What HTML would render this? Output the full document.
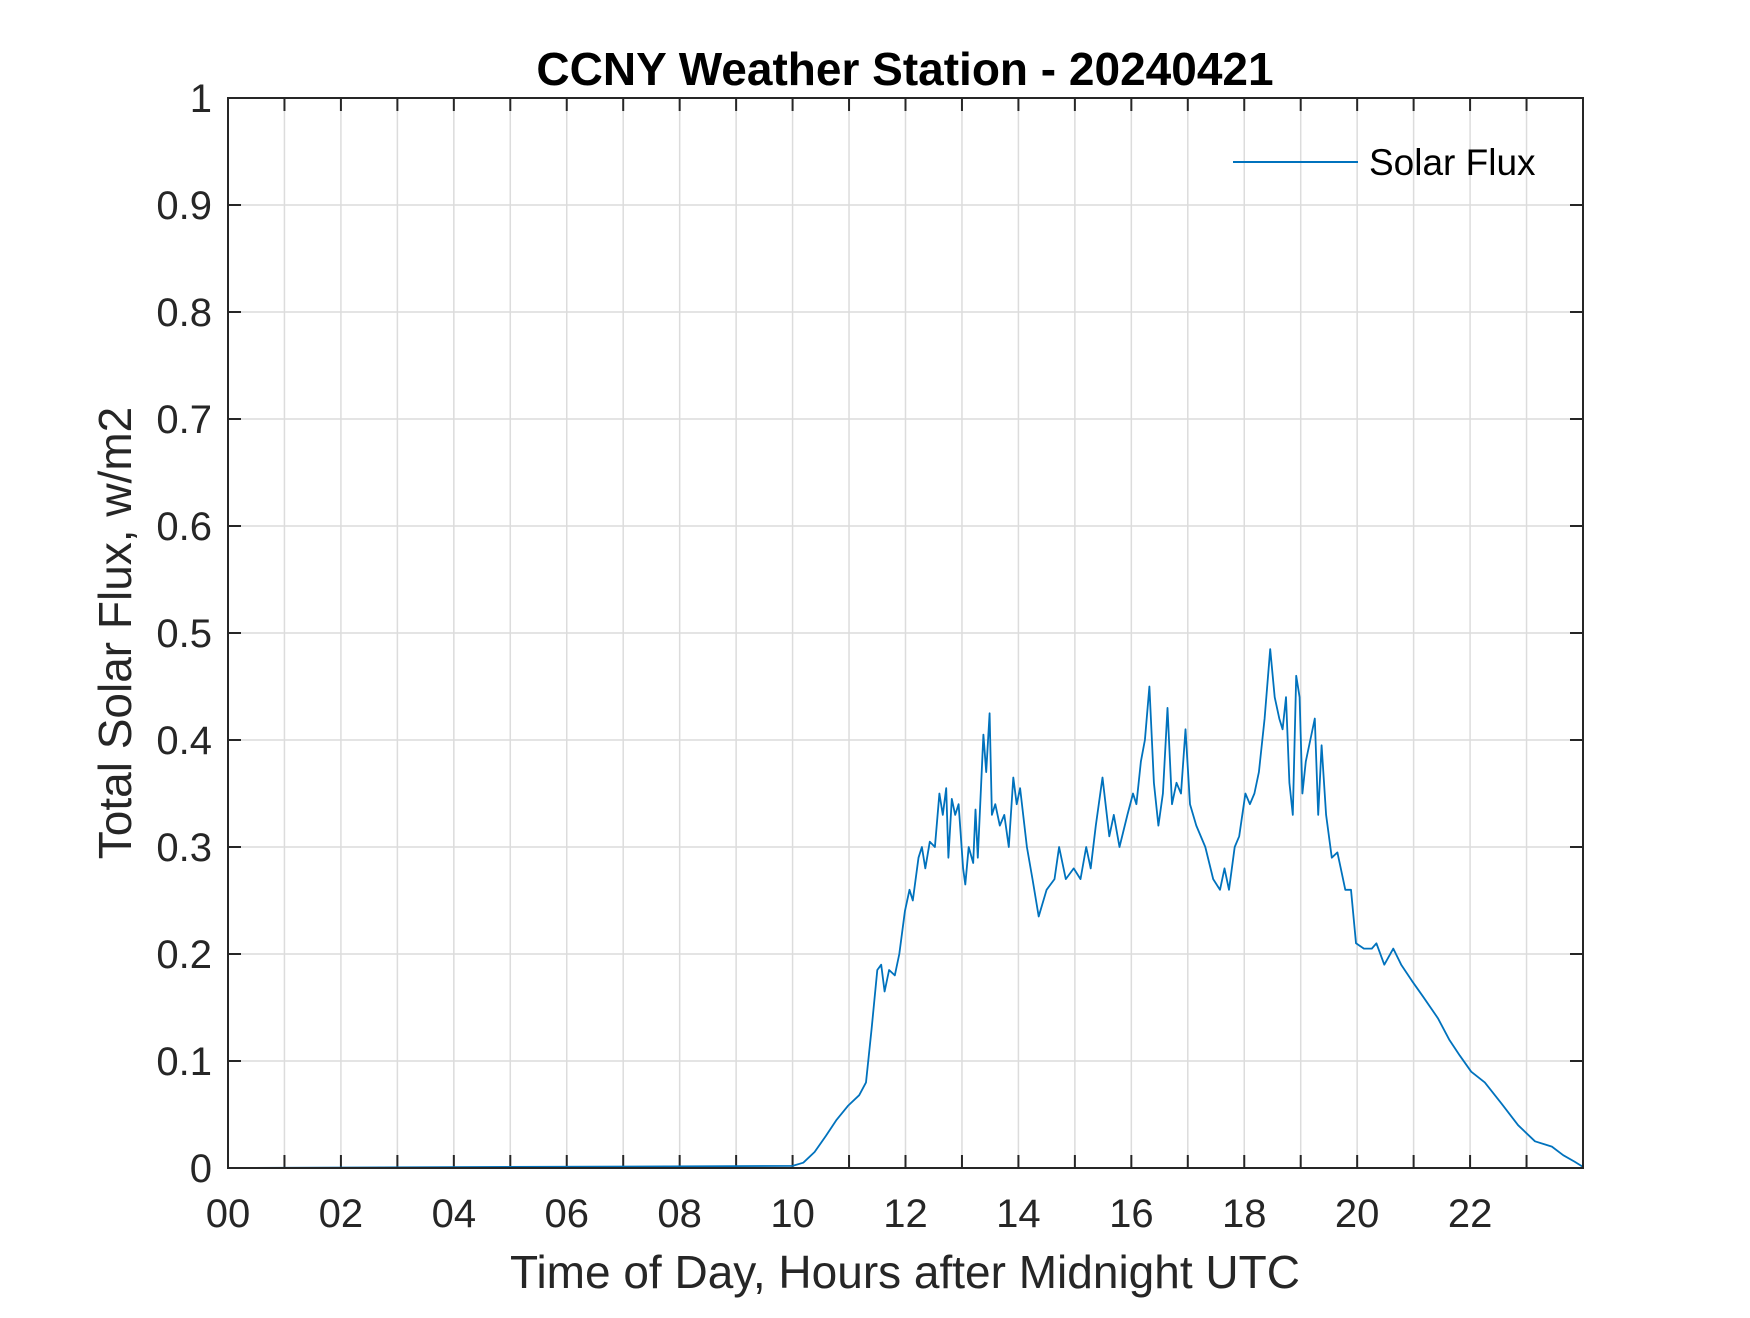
<!DOCTYPE html>
<html><head><meta charset="utf-8"><style>
body{margin:0;background:#fff;}
svg text{font-family:"Liberation Sans",sans-serif;}
</style></head><body>
<svg id="chart" width="1750" height="1313" xmlns="http://www.w3.org/2000/svg">
<rect width="1750" height="1313" fill="#fff"/>
<g id="grid"></g>
<g id="ticks"></g>
<g id="series"></g>
<rect x="228" y="98" width="1355" height="1070" fill="none" stroke="#262626" stroke-width="2"/>
<text x="905" y="85" text-anchor="middle" font-size="46" font-weight="bold" fill="#000">CCNY Weather Station - 20240421</text>
<text x="905" y="1288" text-anchor="middle" font-size="46" fill="#262626">Time of Day, Hours after Midnight UTC</text>
<text transform="translate(131,633) rotate(-90)" text-anchor="middle" font-size="46" fill="#262626">Total Solar Flux, w/m2</text>
<g>
<line x1="1233" y1="162" x2="1358" y2="162" stroke="#0072BD" stroke-width="2"/>
<text x="1369" y="175" font-size="37" fill="#000">Solar Flux</text>
</g>
</svg>
<script>
const hours=[0,10.0,10.19,10.39,10.59,10.78,10.98,11.18,11.30,11.40,11.50,11.57,11.63,11.71,11.81,11.89,11.99,12.07,12.13,12.23,12.29,12.35,12.43,12.52,12.60,12.66,12.72,12.76,12.82,12.88,12.94,13.02,13.06,13.12,13.20,13.24,13.28,13.38,13.43,13.49,13.53,13.59,13.67,13.75,13.83,13.91,13.97,14.03,14.15,14.25,14.36,14.50,14.64,14.72,14.84,14.98,15.10,15.20,15.28,15.37,15.49,15.61,15.69,15.79,15.93,16.03,16.09,16.17,16.24,16.32,16.40,16.48,16.56,16.64,16.72,16.80,16.88,16.96,17.04,17.15,17.31,17.45,17.57,17.65,17.73,17.83,17.91,18.02,18.10,18.18,18.26,18.36,18.46,18.54,18.62,18.68,18.74,18.80,18.86,18.92,18.98,19.03,19.09,19.17,19.25,19.31,19.37,19.45,19.55,19.65,19.71,19.79,19.89,19.98,20.12,20.26,20.34,20.48,20.64,20.78,20.97,21.17,21.43,21.63,21.82,22.02,22.26,22.56,22.85,23.15,23.45,23.65,23.85,24.0];
const flux=[0,0.002,0.005,0.015,0.03,0.045,0.058,0.068,0.08,0.13,0.185,0.19,0.165,0.185,0.18,0.20,0.24,0.26,0.25,0.29,0.30,0.28,0.305,0.30,0.35,0.33,0.355,0.29,0.345,0.33,0.34,0.28,0.265,0.30,0.285,0.335,0.29,0.405,0.37,0.425,0.33,0.34,0.32,0.33,0.30,0.365,0.34,0.355,0.30,0.27,0.235,0.26,0.27,0.30,0.27,0.28,0.27,0.30,0.28,0.32,0.365,0.31,0.33,0.30,0.33,0.35,0.34,0.38,0.40,0.45,0.36,0.32,0.35,0.43,0.34,0.36,0.35,0.41,0.34,0.32,0.30,0.27,0.26,0.28,0.26,0.30,0.31,0.35,0.34,0.35,0.37,0.42,0.485,0.44,0.42,0.41,0.44,0.36,0.33,0.46,0.44,0.35,0.38,0.40,0.42,0.33,0.395,0.33,0.29,0.295,0.28,0.26,0.26,0.21,0.205,0.205,0.21,0.19,0.205,0.19,0.175,0.16,0.14,0.12,0.105,0.09,0.08,0.06,0.04,0.025,0.02,0.012,0.006,0.001];
const xTickLabels=["00","02","04","06","08","10","12","14","16","18","20","22"];
const yTickLabels=["0","0.1","0.2","0.3","0.4","0.5","0.6","0.7","0.8","0.9","1"];
const X0=228,X1=1583,Y0=1168,Y1=98;
function xs(h){return X0+(h/24)*(X1-X0);}
function ys(v){return Y0-v*(Y0-Y1);}
const NS="http://www.w3.org/2000/svg";
function mk(tag,attrs,parent){const e=document.createElementNS(NS,tag);for(const k in attrs)e.setAttribute(k,attrs[k]);parent.appendChild(e);return e;}
const grid=document.getElementById('grid'),ticks=document.getElementById('ticks'),series=document.getElementById('series'),svg=document.getElementById('chart');
for(let h=1;h<24;h++){
  const x=xs(h);
  const g=mk('line',{x1:x,y1:Y1,x2:x,y2:Y0,stroke:'#dcdcdc','stroke-width':1.5},grid);
  
  
  const t1=mk('line',{x1:x,y1:Y0,x2:x,y2:Y0-13,stroke:'#262626','stroke-width':2},ticks);
  
  
  const t2=mk('line',{x1:x,y1:Y1,x2:x,y2:Y1+13,stroke:'#262626','stroke-width':2},ticks);
  
  
}
xTickLabels.forEach((lab,i)=>{
  const t=mk('text',{x:xs(i*2),y:1227,'text-anchor':'middle','font-size':40,fill:'#262626'},svg);
  t.textContent=lab;
  
  
});
yTickLabels.forEach((lab,i)=>{
  const v=i/10,y=ys(v);
  if(i>0&&i<10){
    const g=mk('line',{x1:X0,y1:y,x2:X1,y2:y,stroke:'#dcdcdc','stroke-width':1.5},grid);
    
    
  }
  const a=mk('line',{x1:X0,y1:y,x2:X0+13,y2:y,stroke:'#262626','stroke-width':2},ticks);
  
  
  const b=mk('line',{x1:X1,y1:y,x2:X1-13,y2:y,stroke:'#262626','stroke-width':2},ticks);
  
  
  const t=mk('text',{x:212,y:y+14,'text-anchor':'end','font-size':40,fill:'#262626'},svg);
  t.textContent=lab;
  
  
});
const pts=hours.map((h,i)=>xs(h).toFixed(1)+','+ys(flux[i]).toFixed(1)).join(' ');
const line=mk('polyline',{points:pts,fill:'none',stroke:'#0072BD','stroke-width':1.8,'stroke-linejoin':'round'},series);


</script>
</body></html>
